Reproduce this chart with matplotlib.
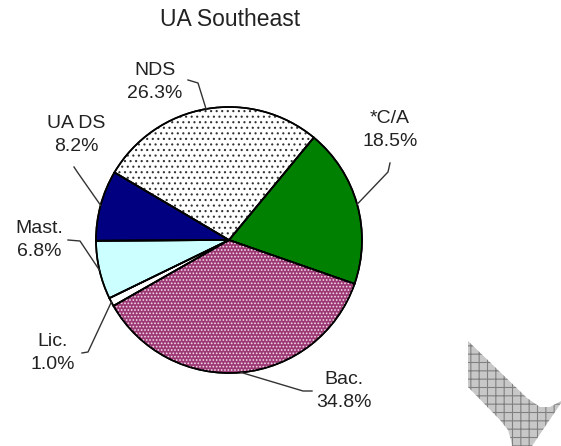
import numpy as np
import matplotlib.pyplot as plt
from matplotlib.patches import Wedge, Polygon

plt.rcParams['font.family'] = ['Liberation Sans', 'DejaVu Sans']
plt.rcParams['hatch.linewidth'] = 0.8

categories = ['*C/A', 'Bac.', 'Lic.', 'Mast.', 'UA DS', 'NDS']
shares = [18.5, 34.8, 1.0, 6.8, 8.2, 26.3]

colors = ['#008000', '#9c3874', '#ffffff', '#ccffff', '#000080', '#ffffff']
hatches = [None, '.....', None, None, None, '...']
hatch_colors = [None, '#f4dcea', None, None, None, '#333333']

W, H = 561, 446

def fy(y):
    # image pixel rows -> axes y (upwards)
    return H - y

# label centre, leader elbow, leader tail (image px)
label_layout = {
    '*C/A': ((390, 130), (388, 172), (390, 163)),
    'Bac.': ((344, 391), (303, 391), (312, 391)),
    'Lic.': ((53, 353), (88, 352), (82, 353)),
    'Mast.': ((39, 240), (80, 241), (68, 240)),
    'UA DS': ((76, 135), (78, 173), (74, 167)),
    'NDS': ((155, 82), (198, 83), (188, 80)),
}

cx, cy, r = 229, fy(240), 133

fig = plt.figure(figsize=(W / 100, H / 100), dpi=100)
ax = fig.add_axes([0, 0, 1, 1])

wedges, _ = ax.pie(shares, colors=colors, startangle=50.4, counterclock=False,
                   center=(cx, cy), radius=r,
                   wedgeprops=dict(edgecolor='black', linewidth=1.2))

for w, h, hc in zip(wedges, hatches, hatch_colors):
    if h:
        ax.add_patch(Wedge((cx, cy), r, w.theta1, w.theta2, facecolor='none',
                           edgecolor=hc, linewidth=0, hatch=h))
    ax.add_patch(Wedge((cx, cy), r, w.theta1, w.theta2, facecolor='none',
                       edgecolor='black', linewidth=1.2))

for w, cat, val in zip(wedges, categories, shares):
    mid = np.deg2rad((w.theta1 + w.theta2) / 2)
    ex, ey = cx + r * np.cos(mid), cy + r * np.sin(mid)
    (tx, ty), (bx, by), (lx, ly) = label_layout[cat]
    ax.plot([ex, bx, lx], [ey, fy(by), fy(ly)], color='#333333', lw=1.0)
    ax.text(tx, fy(ty), f'{cat}\n{val:.1f}%', ha='center', va='center',
            fontsize=14, color='#222222', linespacing=1.45)

ax.text(230, fy(20), 'UA Southeast', ha='center', va='center',
        fontsize=16.5, color='#222222')

# grey hatched scrap in the lower right corner of the page
scrap = [(468, 341), (468, 387), (500, 420), (508, 430), (511, 440), (512, 446),
         (532, 446), (561, 403), (561, 401), (550, 407), (540, 407), (527, 398)]
ax.add_patch(Polygon([(x, fy(y)) for x, y in scrap], facecolor='#c8c8c8',
                     edgecolor='#808080', linewidth=0, hatch='++'))

ax.set_xlim(0, W)
ax.set_ylim(0, H)
ax.axis('off')

fig.savefig('out.png', dpi=100)
